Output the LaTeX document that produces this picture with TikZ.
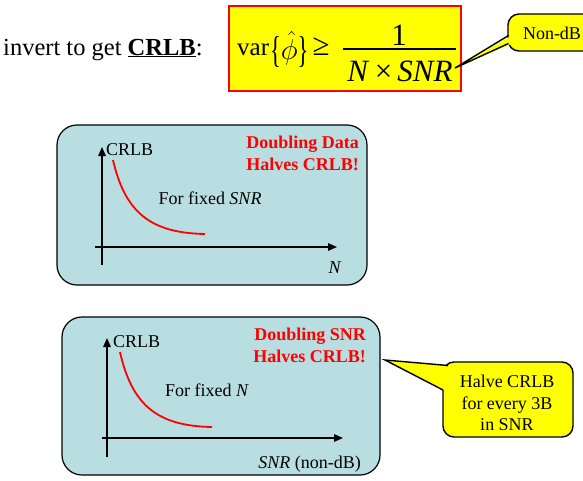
\RequirePackage{fix-cm}
\documentclass[tikz,border=0pt]{standalone}
\usepackage{fontspec}
\setmainfont{Liberation Serif}
\usepackage{graphicx}
\usetikzlibrary{arrows.meta}
\definecolor{panelblue}{RGB}{185,222,225}
\definecolor{calloutyellow}{RGB}{255,255,0}
\definecolor{boxred}{RGB}{255,0,0}
\newcommand{\tallbrace}[1]{\raisebox{-7pt}{\scalebox{0.9}[1.5]{#1}}}
\tikzset{
  panel/.style={draw=black, line width=1.2pt, fill=panelblue, rounded corners=20pt},
  axis/.style={line width=1.4pt, -{Triangle[length=9pt,width=7.5pt]}},
  curve/.style={draw=red, line width=1.8pt},
  lbl/.style={font=\fontsize{18}{21}\selectfont, inner sep=0pt},
  redlbl/.style={font=\fontsize{18}{22}\selectfont\bfseries, text=red, align=right, inner sep=0pt},
  calloutbox/.style={draw=black, line width=1.4pt, fill=calloutyellow, rounded corners=11pt, inner sep=0pt},
  callouttail/.style={draw=black, line width=1.4pt, line join=miter},
  formula/.style={font=\fontsize{31}{34}\selectfont, inner sep=0pt},
}
\begin{document}
\begin{tikzpicture}[x=1pt,y=-1pt]
\clip (0,0) rectangle (583,480);
\fill[white] (0,0) rectangle (583,480);

% heading
\node[anchor=base west, inner sep=0pt, font=\fontsize{24.5}{28}\selectfont] (head) at (3,55)
  {invert to get \underline{\textbf{CRLB}}:};

% formula box
\node[draw=boxred, line width=2pt, fill=calloutyellow, minimum width=232pt, minimum height=85pt, inner sep=0pt] (fbox) at (345,48.5) {};
\node[anchor=base west, inner sep=0pt, font=\fontsize{25}{30}\selectfont] (lhs) at (237,55)
  {var\hspace{1pt}\tallbrace{\{}\raisebox{-4pt}{\fontsize{29}{30}\selectfont$\hat{\phi}$}\tallbrace{\}}\hspace{4pt}{\fontsize{31}{32}\selectfont ≥}};
\node[formula, anchor=base] (num) at (399,45) {1};
\node[formula, anchor=base] (den) at (400,81) {\textit{N}\,×\,\textit{SNR}};
\coordinate (barL) at (343,49);
\coordinate (barR) at (456,49);
\draw[line width=1.5pt] (barL) -- (barR);

% Non-dB callout
\node[calloutbox, minimum width=90pt, minimum height=37pt] (c1) at (553,32.5) {};
\node[lbl, anchor=base] (c1t) at (552,39) {Non-dB};
\coordinate (t1) at (455,68);
\fill[calloutyellow] (511,36) -- (t1) -- (511,44) -- cycle;
\draw[callouttail] (508.5,35.5) -- (t1) -- (508.5,43.5);

% panel 1
\node[panel, minimum width=310pt, minimum height=160pt] (p1) at (212,205) {};
\coordinate (y1b) at (102,265);
\coordinate (y1t) at (102,147);
\coordinate (x1l) at (95,247);
\coordinate (x1r) at (337,247);
\draw[axis] (y1b) -- (y1t);
\draw[axis] (x1l) -- (x1r);
\coordinate (c1s) at (113,160);
\coordinate (c1e) at (205,234);
\draw[curve] (c1s) .. controls (125,212) and (150,233) .. (c1e);
\node[lbl, anchor=base west] (crlb1) at (106,155) {CRLB};
\node[lbl, anchor=base] (fix1) at (210,204) {For fixed \textit{SNR}};
\node[redlbl, anchor=north east] (dd) at (359,136) {Doubling Data\\Halves CRLB!};
\node[lbl, anchor=base] (n1) at (335,273) {\textit{N}};

% panel 2
\node[panel, minimum width=318pt, minimum height=158pt] (p2) at (221,396) {};
\coordinate (y2b) at (107,457);
\coordinate (y2t) at (107,338);
\coordinate (x2l) at (102,438);
\coordinate (x2r) at (343,438);
\draw[axis] (y2b) -- (y2t);
\draw[axis] (x2l) -- (x2r);
\coordinate (c2s) at (120,352);
\coordinate (c2e) at (212,427);
\draw[curve] (c2s) .. controls (132,405) and (157,426) .. (c2e);
\node[lbl, anchor=base west] (crlb2) at (113,347) {CRLB};
\node[lbl, anchor=base] (fix2) at (207,396) {For fixed \textit{N}};
\node[redlbl, anchor=north east] (ds) at (366,328) {Doubling SNR\\Halves CRLB!};
\node[lbl, anchor=base east] (snr2) at (361,468) {\textit{SNR} (non-dB)};

% callout 2
\node[calloutbox, minimum width=130pt, minimum height=75pt] (c2) at (508,399.5) {};
\node[lbl, align=center, font=\fontsize{18}{21.5}\selectfont] (c2t) at (507,403) {Halve CRLB\\for every 3B\\in SNR};
\coordinate (t2) at (385,360);
\fill[calloutyellow] (446,366) -- (t2) -- (446,391) -- cycle;
\draw[callouttail] (448,365.5) -- (t2) -- (443,390);
\end{tikzpicture}
\end{document}
